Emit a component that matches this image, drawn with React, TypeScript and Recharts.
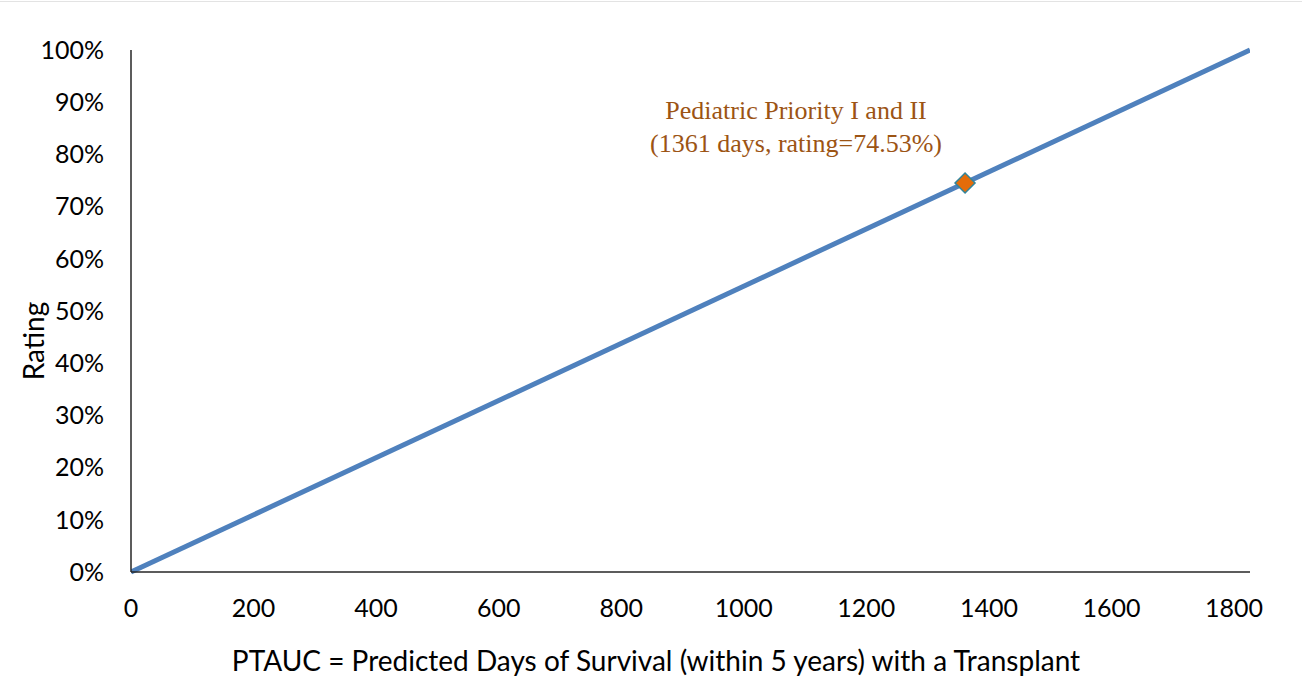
import React from 'react'
import {
  ComposedChart,
  Line,
  Scatter,
  XAxis,
  YAxis,
  ReferenceDot,
  Label,
} from 'recharts'

// rating rises linearly from 0 days to 5 years (1826 days)
const lineDays = [0, 1826]
const lineRating = [0, 100]

const markerDays = [1361]
const markerRating = [74.53]

const xTicks = [0, 200, 400, 600, 800, 1000, 1200, 1400, 1600, 1800]
const yTicks = [0, 10, 20, 30, 40, 50, 60, 70, 80, 90, 100]

const lineData = lineDays.map((d, i) => ({ days: d, rating: lineRating[i] }))
const markerData = markerDays.map((d, i) => ({ days: d, rating: markerRating[i] }))

const SANS = 'Lato, "Open Sans", sans-serif'
const SERIF = '"Liberation Serif", "Times New Roman", serif'

const Diamond = (props: any) => {
  const { cx, cy } = props
  const r = 10
  return (
    <polygon
      points={`${cx},${cy - r} ${cx + r},${cy} ${cx},${cy + r} ${cx - r},${cy}`}
      fill="#E46C0A"
      stroke="#31859C"
      strokeWidth={1.5}
    />
  )
}

export default function App() {
  return (
    <div style={{ position: 'absolute', left: 0, top: 0, width: 1302, height: 692, background: '#fff' }}>
      <div style={{ position: 'absolute', left: 0, top: 1, width: 1302, borderTop: '1px solid #E3E3E3' }} />
      <ComposedChart
        width={1302}
        height={692}
        margin={{ top: 50, right: 52, bottom: 0, left: 0 }}
      >
        <XAxis
          type="number"
          dataKey="days"
          domain={[0, 1826]}
          ticks={xTicks}
          allowDataOverflow
          stroke="#262626"
          strokeWidth={1.5}
          tickLine={false}
          tickSize={0}
          tickMargin={27}
          height={120}
          tick={{ fill: '#000', fontSize: 25, fontFamily: SANS }}
        >
          <Label
            content={() => (
              <text
                x={656}
                y={671}
                textAnchor="middle"
                fontFamily={SANS}
                fontSize={28}
                fill="#000"
              >
                PTAUC = Predicted Days of Survival (within 5 years) with a Transplant
              </text>
            )}
          />
        </XAxis>
        <YAxis
          type="number"
          dataKey="rating"
          domain={[0, 100]}
          ticks={yTicks}
          width={131}
          stroke="#262626"
          strokeWidth={1.5}
          tickLine={false}
          tickSize={0}
          tickMargin={27}
          tickFormatter={(v: number) => `${v}%`}
          tick={{ fill: '#000', fontSize: 25, fontFamily: SANS }}
        >
          <Label
            content={() => (
              <text
                x={0}
                y={0}
                transform="translate(44 341) rotate(-90)"
                textAnchor="middle"
                fontFamily={SANS}
                fontSize={28}
                fill="#000"
              >
                Rating
              </text>
            )}
          />
        </YAxis>
        <Line
          data={lineData}
          dataKey="rating"
          stroke="#4F81BD"
          strokeWidth={5}
          dot={false}
          activeDot={false}
          isAnimationActive={false}
        />
        <Scatter
          data={markerData}
          dataKey="rating"
          shape={Diamond}
          isAnimationActive={false}
        />
        <ReferenceDot
          x={markerDays[0]}
          y={markerRating[0]}
          r={0}
          fill="none"
          stroke="none"
          label={(p: any) => {
            const cx = p.viewBox ? p.viewBox.x + (p.viewBox.width || 0) / 2 : 965
            const cy = p.viewBox ? p.viewBox.y + (p.viewBox.height || 0) / 2 : 183
            return (
              <g fontFamily={SERIF} fontSize={26} fill="#9C5414" textAnchor="middle">
                <text x={cx - 169} y={cy - 64}>Pediatric Priority I and II</text>
                <text x={cx - 169} y={cy - 31}>(1361 days, rating=74.53%)</text>
              </g>
            )
          }}
        />
      </ComposedChart>
    </div>
  )
}
